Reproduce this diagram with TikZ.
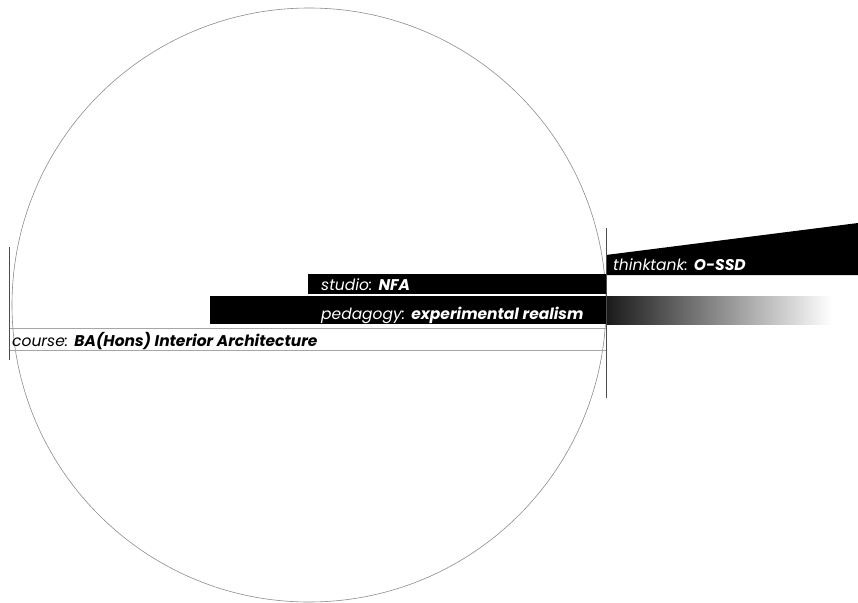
\documentclass[tikz,border=0pt]{standalone}
\usepackage{fontspec}
\setmainfont{Poppins}
\begin{document}
\tikzset{
    label/.style={anchor=base west, inner sep=0pt, font=\fontsize{15.5}{17}\selectfont\itshape},
    bar/.style={fill=black},
    rule/.style={draw=black!70, line width=1pt},
}
\begin{tikzpicture}[x=1pt, y=-1pt]
\useasboundingbox (0, 0) rectangle (858, 602);
\draw[black!45, line width=0.6pt] (309, 305) circle (297);
% bars
\fill[bar] (606, 255) -- (858, 223) -- (858, 275) -- (606, 275) -- cycle;
\fill[bar] (308, 274) rectangle (606, 294);
\fill[bar] (210, 296) rectangle (606, 324);
\shade[left color=black!90, right color=white] (606, 296) rectangle (832, 324);
\draw[black!35, line width=0.6pt] (9, 328) rectangle (606, 350);
% rules
\draw[rule] (9, 247) -- (9, 360);
\draw[rule] (606, 228) -- (606, 398);
\node[label, text=white] (think) at (613, 270) {thinktank: \textbf{O-SSD}};
\node[label, text=white] (studio) at (321, 290) {studio: \textbf{NFA}};
\node[label, text=white] (peda) at (321, 319) {pedagogy: \textbf{experimental realism}};
\node[label, text=black] (course) at (12, 346) {course: \textbf{BA(Hons) Interior Architecture}};
\end{tikzpicture}
\end{document}
